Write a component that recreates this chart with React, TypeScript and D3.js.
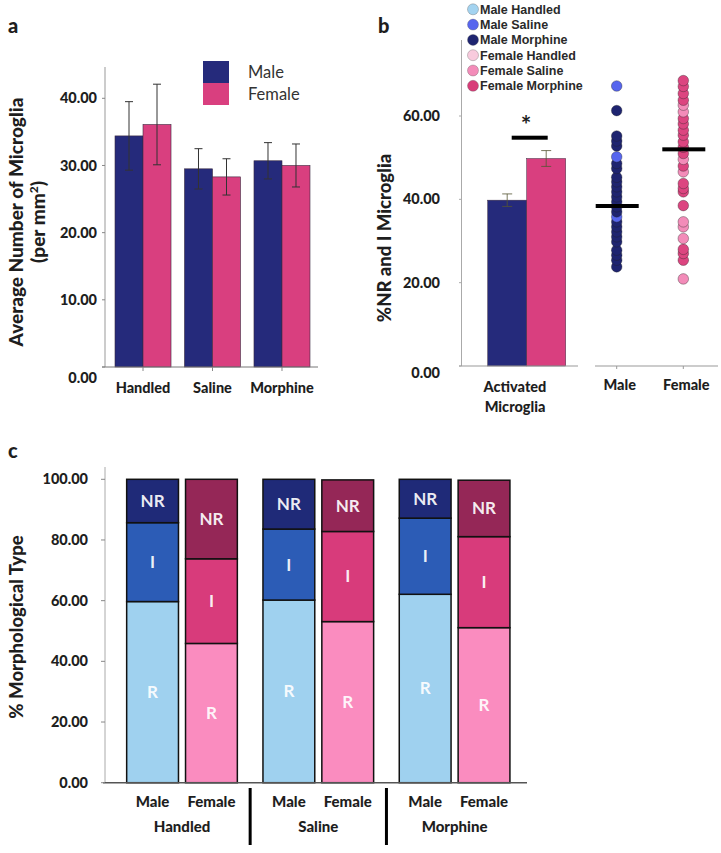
import React from "react";
import * as d3 from "d3";

// ---------- Panel a data ----------
const treatments = ["Handled", "Saline", "Morphine"];
const sexes = ["Male", "Female"];
const maleCount = [34.4, 29.5, 30.7];
const maleErr = [5.1, 3.0, 2.7];
const femaleCount = [36.1, 28.3, 30.0];
const femaleErr = [6.0, 2.7, 3.2];
const countTicks = [0, 10, 20, 30, 40];

// ---------- Panel b data ----------
const activatedMean = [39.8, 49.8]; // Male, Female
const activatedErr = [1.5, 1.9];
const pctTicks = [0, 20, 40, 60];
const maleHandledDots: number[] = [];
const maleSalineDots = [67.2, 50.2, 35.8];
const maleMorphineDots = [61.3, 55.2, 54.0, 52.8, 48.6, 47.4, 45.3, 44.2, 43.0, 41.8, 40.6, 39.4, 38.2, 37.0, 34.6, 33.4, 32.2, 31.0, 29.8, 27.8, 26.6, 25.4, 23.8];
const femaleHandledDots: number[] = [];
const femaleSalineDots = [62.6, 61.0, 49.6, 46.6, 34.6, 33.4, 30.6, 20.9];
const femaleMorphineDots = [68.5, 67.1, 65.4, 63.8, 59.4, 58.1, 56.6, 55.4, 53.8, 52.5, 51.0, 48.0, 43.8, 42.6, 41.8, 38.5, 28.0, 27.0, 25.4];
const dotMeans = [38.4, 52.0];
const legendLabels = ["Male Handled", "Male Saline", "Male Morphine", "Female Handled", "Female Saline", "Female Morphine"];

// ---------- Panel c data ----------
const morphTypes = ["R", "I", "NR"];
const maleR = [59.7, 60.2, 62.1];
const maleI = [26.0, 23.4, 25.1];
const maleNR = [14.3, 16.4, 12.8];
const femaleR = [45.9, 53.1, 51.1];
const femaleI = [27.9, 29.7, 30.0];
const femaleNR = [26.2, 17.0, 18.6];
const morphTicks = [0, 20, 40, 60, 80, 100];

const NAVY = "#252a7b";
const PINK = "#d93f7f";
const FONT = "Lato, 'Open Sans', sans-serif";
const TXT = "#1e1e1e";
const BW = 900;
const fmt = d3.format(".2f");

const legendColors = ["#a3d3f0", "#5766ee", "#1e2470", "#f8cbdd", "#f38cb9", "#d83d79"];
const maleColors = { R: "#9fd1ef", I: "#2c5cb6", NR: "#1f2a78" } as Record<string, string>;
const femaleColors = { R: "#fa8cbf", I: "#d83b7b", NR: "#952757" } as Record<string, string>;

function PanelA() {
  const y = d3.scaleLinear().domain([0, 40]).range([367, 98.3]);
  const x = d3.scaleBand().domain(treatments).range([105, 320]).paddingInner(0.194).paddingOuter(0.144);
  const xs = d3.scaleBand().domain(sexes).range([0, x.bandwidth()]);
  const rows = treatments.map((t, i) => ({ t, v: [maleCount[i], femaleCount[i]], e: [maleErr[i], femaleErr[i]] }));
  return (
    <g>
      <text x={8} y={33} fontFamily={FONT} fontWeight={BW} fontSize={20} fill={TXT}>a</text>
      {rows.map((r) =>
        sexes.map((s, j) => {
          const x0 = (x(r.t) as number) + (xs(s) as number);
          const w = xs.bandwidth();
          const cx = x0 + w / 2;
          return (
            <g key={r.t + s}>
              <rect x={x0} y={y(r.v[j])} width={w} height={y(0) - y(r.v[j])} fill={j === 0 ? NAVY : PINK} stroke="#3a2a40" strokeWidth={0.6} />
              <line x1={cx} x2={cx} y1={y(r.v[j] + r.e[j])} y2={y(r.v[j] - r.e[j])} stroke="#333" strokeWidth={1} />
              <line x1={cx - 4} x2={cx + 4} y1={y(r.v[j] + r.e[j])} y2={y(r.v[j] + r.e[j])} stroke="#333" strokeWidth={1} />
              <line x1={cx - 4} x2={cx + 4} y1={y(r.v[j] - r.e[j])} y2={y(r.v[j] - r.e[j])} stroke="#333" strokeWidth={1} />
            </g>
          );
        })
      )}
      <line x1={105} x2={105} y1={67} y2={367} stroke="#999" strokeWidth={1} />
      <line x1={102} x2={318} y1={367} y2={367} stroke="#777" strokeWidth={1} />
      {countTicks.map((t) => (
        <g key={t}>
          <line x1={102} x2={105} y1={y(t)} y2={y(t)} stroke="#888" />
          <text x={97} y={t === 0 ? 378 : y(t)} dy="0.35em" textAnchor="end" fontFamily={FONT} fontWeight={BW} fontSize={14.5} fill={TXT}>{fmt(t)}</text>
        </g>
      ))}
      {treatments.map((t) => {
        const cx = (x(t) as number) + x.bandwidth() / 2;
        return (
          <g key={t}>
            <line x1={cx} x2={cx} y1={367} y2={371} stroke="#888" />
            <text x={cx} y={393} textAnchor="middle" fontFamily={FONT} fontWeight={BW} fontSize={14.5} fill={TXT}>{t}</text>
          </g>
        );
      })}
      <text transform="translate(16,222) rotate(-90)" textAnchor="middle" dy="0.35em" fontFamily={FONT} fontWeight={BW} fontSize={19} fill={TXT}>Average Number of Microglia</text>
      <text transform="translate(38,222) rotate(-90)" textAnchor="middle" dy="0.35em" fontFamily={FONT} fontWeight={BW} fontSize={19} fill={TXT}>
        (per mm<tspan baselineShift="super" fontSize={12}>2</tspan>)
      </text>
      {sexes.map((s, i) => (
        <g key={s}>
          <rect x={203} y={61 + i * 22} width={26} height={22} fill={i === 0 ? NAVY : PINK} />
          <text x={248} y={72 + i * 22} dy="0.35em" fontFamily={FONT} fontSize={16.5} fill="#333">{s}</text>
        </g>
      ))}
    </g>
  );
}

function PanelB() {
  const y = d3.scaleLinear().domain([0, 60]).range([366, 116]);
  const xb = d3.scaleBand().domain(sexes).range([487.7, 565.7]);
  const xd = d3.scalePoint().domain(sexes).range([616.7, 683.3]);
  const groups = [
    { sex: "Male", vals: maleHandledDots, c: legendColors[0] },
    { sex: "Male", vals: maleSalineDots, c: legendColors[1] },
    { sex: "Male", vals: maleMorphineDots, c: legendColors[2] },
    { sex: "Female", vals: femaleHandledDots, c: legendColors[3] },
    { sex: "Female", vals: femaleSalineDots, c: legendColors[4] },
    { sex: "Female", vals: femaleMorphineDots, c: "#dc4580" },
  ];
  const dots = groups.flatMap((g) => g.vals.map((v) => ({ sex: g.sex, v, c: g.c })));
  dots.sort((a, b) => a.v - b.v);
  return (
    <g>
      <text x={378} y={33} fontFamily={FONT} fontWeight={BW} fontSize={20} fill={TXT}>b</text>
      {legendLabels.map((l, i) => (
        <g key={l}>
          <circle cx={473} cy={9.3 + i * 15.3} r={5.5} fill={legendColors[i]} stroke="#555" strokeOpacity={0.4} strokeWidth={0.8} />
          <text x={480} y={9.3 + i * 15.3} dy="0.35em" fontFamily="'Liberation Sans', Arial, sans-serif" fontWeight={700} fontSize={12.5} fill="#2a2a2a">{l}</text>
        </g>
      ))}
      {sexes.map((s, j) => {
        const x0 = xb(s) as number;
        const w = xb.bandwidth();
        const cx = x0 + w / 2;
        const v = activatedMean[j];
        const e = activatedErr[j];
        return (
          <g key={s}>
            <rect x={x0} y={y(v)} width={w} height={y(0) - y(v)} fill={j === 0 ? NAVY : PINK} stroke="#3a2a40" strokeWidth={0.5} />
            <line x1={cx} x2={cx} y1={y(v + e)} y2={y(v - e)} stroke="#553" strokeWidth={0.8} />
            <line x1={cx - 5} x2={cx + 5} y1={y(v + e)} y2={y(v + e)} stroke="#553" strokeWidth={0.8} />
            <line x1={cx - 5} x2={cx + 5} y1={y(v - e)} y2={y(v - e)} stroke="#553" strokeWidth={0.8} />
          </g>
        );
      })}
      <rect x={511.7} y={135.7} width={36} height={4} fill="#000" />
      <text x={526} y={134} textAnchor="middle" fontFamily={FONT} fontWeight={700} fontSize={25} fill={TXT}>*</text>
      <line x1={461.5} x2={461.5} y1={40} y2={366} stroke="#aaa" />
      <line x1={459} x2={578} y1={366} y2={366} stroke="#999" />
      <line x1={595} x2={718} y1={366} y2={366} stroke="#999" />
      {sexes.map((s) => (
        <line key={s} x1={xd(s)} x2={xd(s)} y1={366} y2={369} stroke="#999" />
      ))}
      {pctTicks.map((t) => (
        <g key={t}>
          <line x1={459} x2={461.5} y1={y(t)} y2={y(t)} stroke="#aaa" />
          <text x={440} y={t === 0 ? 373 : y(t)} dy="0.35em" textAnchor="end" fontFamily={FONT} fontWeight={BW} fontSize={14.5} fill={TXT}>{fmt(t)}</text>
        </g>
      ))}
      <text x={515} y={391.5} textAnchor="middle" fontFamily={FONT} fontWeight={BW} fontSize={14.5} fill={TXT}>Activated</text>
      <text x={515} y={411.5} textAnchor="middle" fontFamily={FONT} fontWeight={BW} fontSize={14.5} fill={TXT}>Microglia</text>
      {sexes.map((s) => (
        <text key={s} x={(xd(s) as number) + 3} y={390} textAnchor="middle" fontFamily={FONT} fontWeight={BW} fontSize={14.5} fill={TXT}>{s}</text>
      ))}
      <text transform="translate(385,238) rotate(-90)" textAnchor="middle" dy="0.35em" fontFamily={FONT} fontWeight={BW} fontSize={18.5} fill={TXT}>%NR and I Microglia</text>
      {dots.map((d, i) => (
        <circle key={i} cx={xd(d.sex)} cy={y(d.v)} r={5.3} fill={d.c} stroke="#222" strokeOpacity={0.45} strokeWidth={0.8} />
      ))}
      {sexes.map((s, j) => (
        <rect key={s} x={(xd(s) as number) - 21} y={y(dotMeans[j]) - 2} width={43} height={4} fill="#000" />
      ))}
    </g>
  );
}

function PanelC() {
  const y = d3.scaleLinear().domain([0, 100]).range([782.7, 479.3]);
  const xg = d3.scaleBand().domain(treatments).range([105, 531.6]).paddingInner(0.188).paddingOuter(0.159);
  const xs = d3.scaleBand().domain(sexes).range([0, xg.bandwidth()]).paddingInner(0.12);
  const stackRows = treatments.flatMap((t, i) => [
    { t, s: "Male", R: maleR[i], I: maleI[i], NR: maleNR[i] },
    { t, s: "Female", R: femaleR[i], I: femaleI[i], NR: femaleNR[i] },
  ]);
  const series = d3.stack<any>().keys(morphTypes)(stackRows);
  const seps = [0, 1].map((i) => {
    const a = (xg(treatments[i]) as number) + xg.bandwidth();
    const b = xg(treatments[i + 1]) as number;
    return (a + b) / 2;
  });
  return (
    <g>
      <text x={8} y={458} fontFamily={FONT} fontWeight={BW} fontSize={20} fill={TXT}>c</text>
      {series.map((ser) =>
        ser.map((d, i) => {
          const row = stackRows[i];
          const x0 = (xg(row.t) as number) + (xs(row.s) as number);
          const w = xs.bandwidth();
          const col = row.s === "Male" ? maleColors[ser.key] : femaleColors[ser.key];
          const ym = y((d[0] + d[1]) / 2);
          return (
            <g key={ser.key + i}>
              <rect x={x0} y={y(d[1])} width={w} height={y(d[0]) - y(d[1])} fill={col} stroke="#111" strokeWidth={1.5} />
              <text x={x0 + w / 2} y={ym} dy="0.35em" textAnchor="middle" fontFamily={FONT} fontWeight={700} fontSize={17} fill="#fff" fillOpacity={0.92}>{ser.key}</text>
            </g>
          );
        })
      )}
      <line x1={105} x2={105} y1={467} y2={782.7} stroke="#aaa" />
      <line x1={103} x2={527} y1={782.7} y2={782.7} stroke="#555" strokeWidth={1.5} />
      {morphTicks.map((t) => (
        <g key={t}>
          <line x1={101} x2={105} y1={y(t)} y2={y(t)} stroke="#888" />
          <text x={88} y={y(t)} dy="0.35em" textAnchor="end" fontFamily={FONT} fontWeight={BW} fontSize={14.5} fill={TXT}>{fmt(t)}</text>
        </g>
      ))}
      {stackRows.map((r, i) => (
        <text key={i} x={(xg(r.t) as number) + (xs(r.s) as number) + xs.bandwidth() / 2} y={807} textAnchor="middle" fontFamily={FONT} fontWeight={BW} fontSize={15} fill={TXT}>{r.s}</text>
      ))}
      {treatments.map((t) => (
        <text key={t} x={(xg(t) as number) + xg.bandwidth() / 2} y={832} textAnchor="middle" fontFamily={FONT} fontWeight={BW} fontSize={15} fill={TXT}>{t}</text>
      ))}
      {seps.map((sx, i) => (
        <line key={i} x1={sx} x2={sx} y1={788} y2={845} stroke="#000" strokeWidth={3} />
      ))}
      <text transform="translate(17,627) rotate(-90)" textAnchor="middle" dy="0.35em" fontFamily={FONT} fontWeight={BW} fontSize={18.5} fill={TXT}>% Morphological Type</text>
    </g>
  );
}

export default function App() {
  return (
    <svg width={721} height={853} style={{ position: "absolute", left: 0, top: 0, background: "#fff" }}>
      <rect width={721} height={853} fill="#fff" />
      <PanelA />
      <PanelB />
      <PanelC />
    </svg>
  );
}
